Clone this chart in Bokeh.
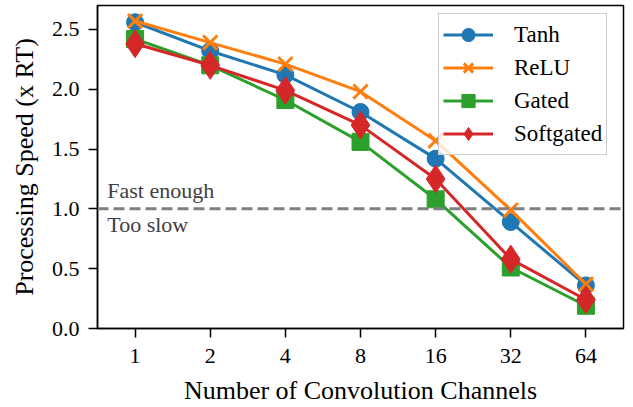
from bokeh.plotting import figure
from bokeh.models import Range1d, FixedTicker, PrintfTickFormatter, Span, Label, Legend, LegendItem
from bokeh.embed import file_html
from bokeh.resources import INLINE

channels = ["1", "2", "4", "8", "16", "32", "64"]
tanh = [2.56, 2.32, 2.12, 1.81, 1.42, 0.89, 0.36]
relu = [2.57, 2.39, 2.21, 1.98, 1.57, 0.99, 0.37]
gated = [2.42, 2.20, 1.91, 1.56, 1.08, 0.51, 0.19]
softgated = [2.38, 2.20, 1.99, 1.70, 1.25, 0.58, 0.24]
y_ticks = [0.0, 0.5, 1.0, 1.5, 2.0, 2.5]
threshold = 1.0

FONT = "Liberation Serif"
xs = list(range(len(channels)))

p = figure(frame_width=526, frame_height=323, output_backend="svg", toolbar_location=None,
           x_range=Range1d(-0.5, 6.5), y_range=Range1d(0, 2.70),
           min_border_left=97, min_border_right=2, min_border_top=5, min_border_bottom=71)
p.xgrid.visible = False
p.ygrid.visible = False
p.outline_line_color = "black"
p.outline_line_width = 1.5
p.background_fill_color = "white"
p.border_fill_color = "white"

for ax in (p.xaxis[0], p.yaxis[0]):
    ax.axis_line_color = "black"
    ax.axis_line_width = 1.5
    ax.major_tick_line_color = "black"
    ax.major_tick_line_width = 1.5
    ax.major_tick_out = 9
    ax.major_tick_in = 0
    ax.minor_tick_line_color = None
    ax.major_label_text_font = FONT
    ax.major_label_text_font_size = "22px"
    ax.major_label_text_color = "black"
    ax.axis_label_text_font = FONT
    ax.axis_label_text_font_size = "26px"
    ax.axis_label_text_font_style = "normal"
    ax.axis_label_text_color = "black"

p.xaxis.ticker = FixedTicker(ticks=xs)
p.xaxis.major_label_overrides = {i: c for i, c in enumerate(channels)}
p.xaxis.axis_label = "Number of Convolution Channels"
p.xaxis.major_label_standoff = 11
p.xaxis.axis_label_standoff = 10

p.yaxis.ticker = FixedTicker(ticks=y_ticks)
p.yaxis.formatter = PrintfTickFormatter(format="%.1f")
p.yaxis.axis_label = "Processing Speed (x RT)"
p.yaxis.major_label_standoff = 9
p.yaxis.axis_label_standoff = 10

span = Span(location=threshold, dimension="width", line_color="#808080",
            line_width=3, line_dash="11 5")
p.add_layout(span)

p.add_layout(Label(x=-0.37, y=threshold, text="Fast enough", text_font=FONT,
                   text_font_size="22px", text_color="#404040",
                   text_baseline="alphabetic", y_offset=18))
p.add_layout(Label(x=-0.37, y=threshold, text="Too slow", text_font=FONT,
                   text_font_size="22px", text_color="#404040",
                   text_baseline="alphabetic", y_offset=-16))

series = [
    ("Tanh", tanh, "#1f77b4", "circle", 17),
    ("ReLU", relu, "#ff7f0e", "x", 20),
    ("Gated", gated, "#2ca02c", "square", 17),
    ("Softgated", softgated, "#d62728", "diamond", 28),
]
items = []
for name, ys, color, marker, size in series:
    l = p.line(xs, ys, line_color=color, line_width=3)
    if marker == "x":
        m = p.scatter(xs, ys, marker="x", size=size, line_color=color, line_width=3)
    else:
        m = p.scatter(xs, ys, marker=marker, size=size, fill_color=color, line_color=color, line_width=1)
    items.append(LegendItem(label=name, renderers=[l, m]))

legend = Legend(items=items, location=(341, 173), margin=0, padding=4,
                glyph_width=50, glyph_height=33, label_height=33, spacing=0,
                label_standoff=21, label_text_font=FONT, label_text_font_size="23px",
                label_text_color="black", border_line_color="#cccccc",
                border_line_width=1.5, border_line_alpha=1.0,
                background_fill_color="white", background_fill_alpha=0.8)
p.add_layout(legend)

open("out.html", "w").write(file_html(p, INLINE))
